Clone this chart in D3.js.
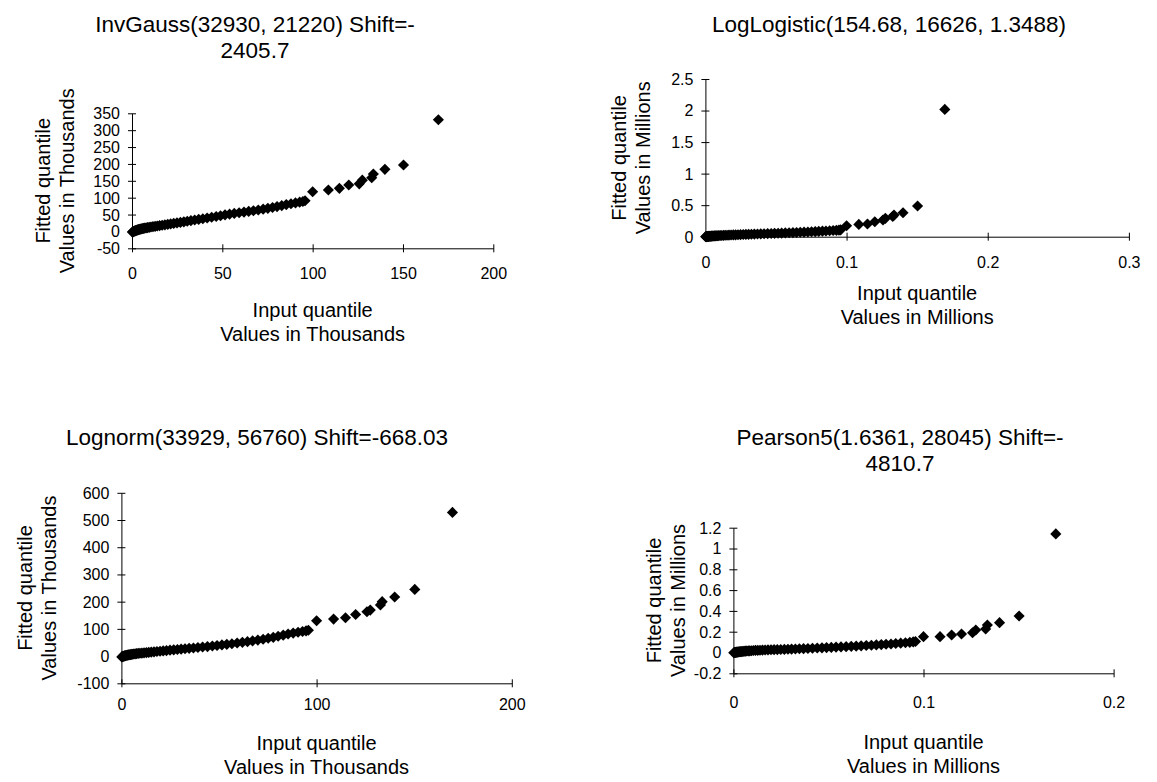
<!DOCTYPE html>
<html>
<head>
<meta charset="utf-8">
<script src="https://cdn.jsdelivr.net/npm/d3@7"></script>
<style>
  body { margin: 0; background: #fff; }
  svg text { font-family: "Liberation Sans", Arial, sans-serif; fill: #000; }
</style>
</head>
<body>
<svg id="chart" width="1157" height="782"></svg>
<script>
// Input (empirical) quantiles, in thousands
const inputQuantile = [
  0.2, 0.5, 0.8, 1.1, 1.4, 1.7, 2.0, 2.4, 2.8, 3.2,
  3.6, 4.1, 4.6, 5.1, 5.7, 6.3, 7.0, 7.8, 8.6, 9.5,
  10.5, 11.6, 12.8, 14.0, 15.3, 16.7, 18.2, 19.8, 21.4, 23.1,
  24.9, 26.8, 28.7, 30.6, 32.6, 34.7, 36.9, 39.2, 41.6, 44.1,
  46.6, 49.0, 51.5, 54.0, 56.6, 59.3, 62.0, 64.6, 67.2, 69.9,
  72.6, 75.2, 77.8, 80.3, 82.9, 85.4, 88.0, 90.5, 92.8, 94.6,
  95.8, 100.0, 108.7, 114.8, 120.0, 125.8, 127.5, 132.7, 133.6, 140.0,
  150.3, 169.6
];

// Fitted quantiles, InvGauss (thousands)
const invGaussFit = [
  -2.0, -1.2, -0.4, 0.4, 1.1, 1.8, 2.5, 3.2, 3.9, 4.6,
  5.3, 6.0, 6.7, 7.4, 8.1, 8.9, 9.7, 10.5, 11.3, 12.2,
  13.1, 14.1, 15.1, 16.1, 17.2, 18.4, 19.6, 20.9, 22.3, 23.7,
  25.2, 26.8, 28.4, 30.1, 31.9, 33.7, 35.6, 37.6, 39.7, 41.9,
  44.2, 46.6, 49.1, 51.2, 53.3, 55.4, 57.3, 59.3, 61.4, 63.6,
  65.9, 68.3, 70.9, 73.6, 76.5, 79.6, 82.0, 84.4, 86.8, 88.5,
  91.0, 117.6, 122.7, 127.7, 137.5, 141.0, 152.0, 159.0, 170.0, 184.0,
  196.7, 331.0
];

// Fitted quantiles, LogLogistic (millions)
const logLogisticFit = [
  0.0005, 0.0012, 0.0019, 0.0026, 0.0033, 0.0040, 0.0047, 0.0055, 0.0063, 0.0071,
  0.0079, 0.0088, 0.0097, 0.0106, 0.0116, 0.0126, 0.0137, 0.0148, 0.0159, 0.0171,
  0.0183, 0.0196, 0.0209, 0.0222, 0.0236, 0.0250, 0.0264, 0.0279, 0.0294, 0.0310,
  0.0326, 0.0342, 0.0359, 0.0376, 0.0394, 0.0412, 0.0431, 0.0450, 0.0470, 0.0490,
  0.0511, 0.0532, 0.0554, 0.0576, 0.0599, 0.0622, 0.0646, 0.0671, 0.0697, 0.0724,
  0.0752, 0.0781, 0.0811, 0.0842, 0.0874, 0.0907, 0.0941, 0.0976, 0.1012, 0.1050,
  0.1090, 0.174, 0.195, 0.201, 0.237, 0.265, 0.291, 0.320, 0.343, 0.380,
  0.486, 2.018
];

// Fitted quantiles, Lognorm (thousands)
const lognormFit = [
  -3.0, -2.0, -1.2, -0.4, 0.3, 1.0, 1.6, 2.3, 3.0, 3.6,
  4.2, 4.9, 5.5, 6.1, 6.8, 7.5, 8.2, 9.0, 9.8, 10.4,
  11.0, 11.8, 12.7, 13.6, 14.6, 15.6, 16.7, 17.8, 19.0, 20.3,
  21.8, 23.0, 24.3, 25.6, 27.0, 28.4, 29.9, 31.5, 33.2, 35.0,
  36.9, 38.9, 41.0, 43.2, 45.5, 47.9, 50.4, 53.0, 55.8, 58.8,
  62.0, 65.4, 69.0, 72.8, 76.8, 81.0, 84.5, 87.5, 90.2, 92.6,
  95.0, 130, 136, 141, 153, 163, 169, 188, 200, 217,
  245, 528
];

// Fitted quantiles, Pearson5 (millions)
const pearson5Fit = [
  -0.002, -0.001, 0.000, 0.001, 0.002, 0.003, 0.004, 0.005, 0.006, 0.007,
  0.008, 0.009, 0.010, 0.011, 0.012, 0.013, 0.014, 0.015, 0.016, 0.017,
  0.019, 0.020, 0.021, 0.022, 0.023, 0.024, 0.025, 0.026, 0.027, 0.028,
  0.029, 0.030, 0.031, 0.033, 0.034, 0.036, 0.037, 0.039, 0.041, 0.043,
  0.045, 0.047, 0.049, 0.052, 0.054, 0.056, 0.059, 0.061, 0.064, 0.067,
  0.070, 0.073, 0.076, 0.079, 0.082, 0.086, 0.090, 0.094, 0.098, 0.102,
  0.106, 0.152, 0.152, 0.168, 0.178, 0.190, 0.216, 0.226, 0.264, 0.287,
  0.351, 1.14
];

// Titles and axis ticks
const invGaussTitle = ["InvGauss(32930, 21220) Shift=-", "2405.7"];
const logLogisticTitle = ["LogLogistic(154.68, 16626, 1.3488)"];
const lognormTitle = ["Lognorm(33929, 56760) Shift=-668.03"];
const pearson5Title = ["Pearson5(1.6361, 28045) Shift=-", "4810.7"];

const invGaussXTicks = [0, 50, 100, 150, 200];
const invGaussYTicks = [-50, 0, 50, 100, 150, 200, 250, 300, 350];
const logLogisticXTicks = [0, 0.1, 0.2, 0.3];
const logLogisticYTicks = [0, 0.5, 1, 1.5, 2, 2.5];
const lognormXTicks = [0, 100, 200];
const lognormYTicks = [-100, 0, 100, 200, 300, 400, 500, 600];
const pearson5XTicks = [0, 0.1, 0.2];
const pearson5YTicks = [-0.2, 0, 0.2, 0.4, 0.6, 0.8, 1, 1.2];

const yTitle = "Fitted quantile";
const xTitle = "Input quantile";
const unitThousands = "Values in Thousands";
const unitMillions = "Values in Millions";

const inputMillions = inputQuantile.map(v => v / 1000);

const panels = [
  { title: invGaussTitle, xs: inputQuantile, ys: invGaussFit, unit: unitThousands,
    xTicks: invGaussXTicks, yTicks: invGaussYTicks,
    box: { left: 132, right: 493.3, top: 113.3, bottom: 248.3 },
    titleX: 255, titleY: 31.7, tickY: 31, xTitleY: 317, yTitleX: 50, yTitleGap: 24 },
  { title: logLogisticTitle, xs: inputMillions, ys: logLogisticFit, unit: unitMillions,
    xTicks: logLogisticXTicks, yTicks: logLogisticYTicks,
    box: { left: 705.4, right: 1128.9, top: 79, bottom: 236.7 },
    titleX: 889, titleY: 31.7, tickY: 31, xTitleY: 300, yTitleX: 626, yTitleGap: 24 },
  { title: lognormTitle, xs: inputQuantile, ys: lognormFit, unit: unitThousands,
    xTicks: lognormXTicks, yTicks: lognormYTicks,
    box: { left: 121.4, right: 511.8, top: 492.8, bottom: 683.3 },
    titleX: 257, titleY: 445, tickY: 27, xTitleY: 750, yTitleX: 32, yTitleGap: 24 },
  { title: pearson5Title, xs: inputMillions, ys: pearson5Fit, unit: unitMillions,
    xTicks: pearson5XTicks, yTicks: pearson5YTicks,
    box: { left: 733.4, right: 1113.6, top: 527.7, bottom: 673.3 },
    titleX: 900, titleY: 445, tickY: 35, xTitleY: 749, yTitleX: 661, yTitleGap: 24 }
];

const svg = d3.select("#chart");
const lineGap = 24;
const fmt = d => String(Math.round(d * 1000) / 1000);
const diamond = d3.symbol().type(d3.symbolSquare).size(62);

function drawPanel(p) {
  const b = p.box;
  const x = d3.scaleLinear()
    .domain([p.xTicks[0], p.xTicks[p.xTicks.length - 1]])
    .range([b.left, b.right]);
  const y = d3.scaleLinear()
    .domain([p.yTicks[0], p.yTicks[p.yTicks.length - 1]])
    .range([b.bottom, b.top]);

  const g = svg.append("g");

  // x axis along the bottom of the plot, ticks crossing the line
  const gx = g.append("g")
    .attr("transform", `translate(0,${b.bottom})`)
    .call(d3.axisBottom(x).tickValues(p.xTicks).tickFormat(fmt).tickSizeOuter(0).tickSizeInner(4));
  gx.attr("font-family", null).attr("font-size", null);
  gx.select(".domain").attr("stroke", "#000");
  gx.selectAll(".tick line").attr("y1", -4).attr("y2", 4).attr("stroke", "#000");
  gx.selectAll(".tick text").attr("y", p.tickY).attr("dy", null).style("font-size", "16px");

  // y axis along the left of the plot
  const gy = g.append("g")
    .attr("transform", `translate(${b.left},0)`)
    .call(d3.axisLeft(y).tickValues(p.yTicks).tickFormat(fmt).tickSizeOuter(0).tickSizeInner(4));
  gy.attr("font-family", null).attr("font-size", null);
  gy.select(".domain").attr("stroke", "#000");
  gy.selectAll(".tick line").attr("x1", -4).attr("x2", 4).attr("stroke", "#000");
  gy.selectAll(".tick text").attr("x", -12).attr("dy", "0.34em").style("font-size", "16px");

  // markers
  g.append("g").selectAll("path")
    .data(p.xs.map((v, i) => [v, p.ys[i]]))
    .join("path")
    .attr("d", diamond)
    .attr("transform", d => `translate(${x(d[0])},${y(d[1])}) rotate(45)`)
    .attr("fill", "#000");

  // chart title
  g.append("text")
    .attr("text-anchor", "middle")
    .style("font-size", "22.5px")
    .selectAll("tspan")
    .data(p.title)
    .join("tspan")
    .attr("x", p.titleX)
    .attr("y", (d, i) => p.titleY + i * 26)
    .text(d => d);

  // x axis title
  const cx = (b.left + b.right) / 2;
  g.append("text")
    .attr("text-anchor", "middle")
    .style("font-size", "20px")
    .selectAll("tspan")
    .data([xTitle, p.unit])
    .join("tspan")
    .attr("x", cx)
    .attr("y", (d, i) => p.xTitleY + i * lineGap)
    .text(d => d);

  // y axis title, rotated
  const cy = (b.top + b.bottom) / 2;
  [yTitle, p.unit].forEach((t, i) => {
    g.append("text")
      .attr("text-anchor", "middle")
      .style("font-size", "20px")
      .attr("transform", `translate(${p.yTitleX + i * p.yTitleGap},${cy}) rotate(-90)`)
      .text(t);
  });
}

panels.forEach(drawPanel);
</script>
</body>
</html>
